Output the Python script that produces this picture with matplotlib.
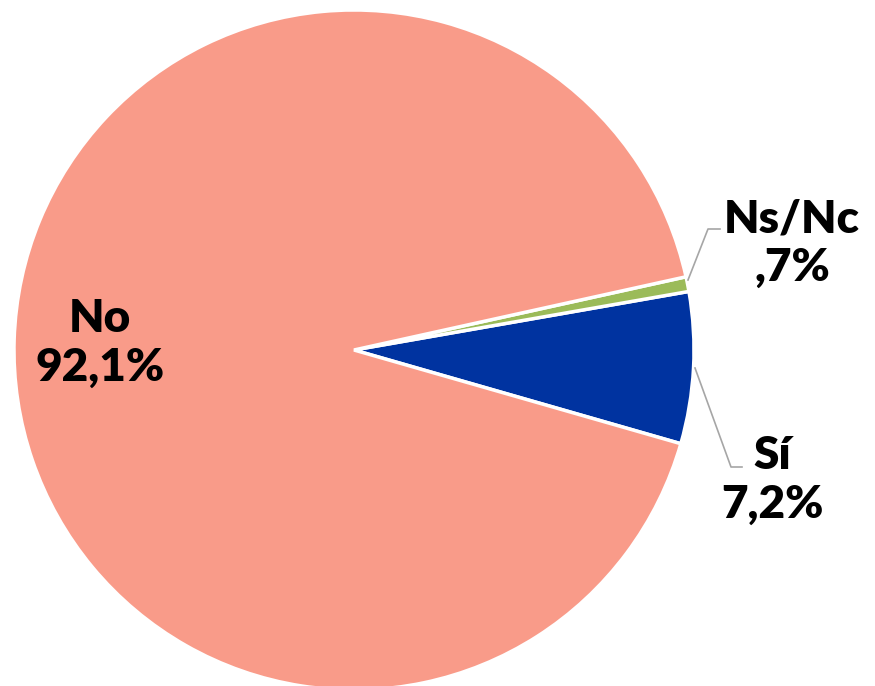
import matplotlib.pyplot as plt

# slices, counterclockwise from the start angle
labels = ["Sí", "Ns/Nc", "No"]
values = [7.2, 0.7, 92.1]
value_text = ["7,2%", ",7%", "92,1%"]
colors = ["#0033A0", "#9BBB59", "#F99B89"]

W, H = 875, 686
fig = plt.figure(figsize=(W / 100, H / 100), dpi=100)
ax = fig.add_axes([0, 0, 1, 1])

cx, cy, r = 354, H - 350, 340
ax.pie(values, colors=colors, startangle=-16, counterclock=True,
       center=(cx, cy), radius=r,
       wedgeprops=dict(edgecolor="white", linewidth=2.5))
ax.set_xlim(0, W)
ax.set_ylim(0, H)
ax.set_aspect("equal")
ax.axis("off")

font = dict(family=["Lato", "DejaVu Sans"], weight="heavy", fontsize=33,
            color="black", ha="center", va="center", linespacing=1.22)

# label positions in pixel coords (y from top)
ax.text(100, H - 343, f"{labels[2]}\n{value_text[2]}", **font)
ax.text(792, H - 243, f"{labels[1]}\n{value_text[1]}", **font)
ax.text(772, H - 480, f"{labels[0]}\n{value_text[0]}", **font)

# leader lines
grey = "#A6A6A6"
ax.plot([688, 708, 720], [H - 280, H - 229, H - 229], color=grey, lw=1.2)
ax.plot([695, 731, 742], [H - 368, H - 467, H - 467], color=grey, lw=1.2)

fig.savefig("out.png", dpi=100)
